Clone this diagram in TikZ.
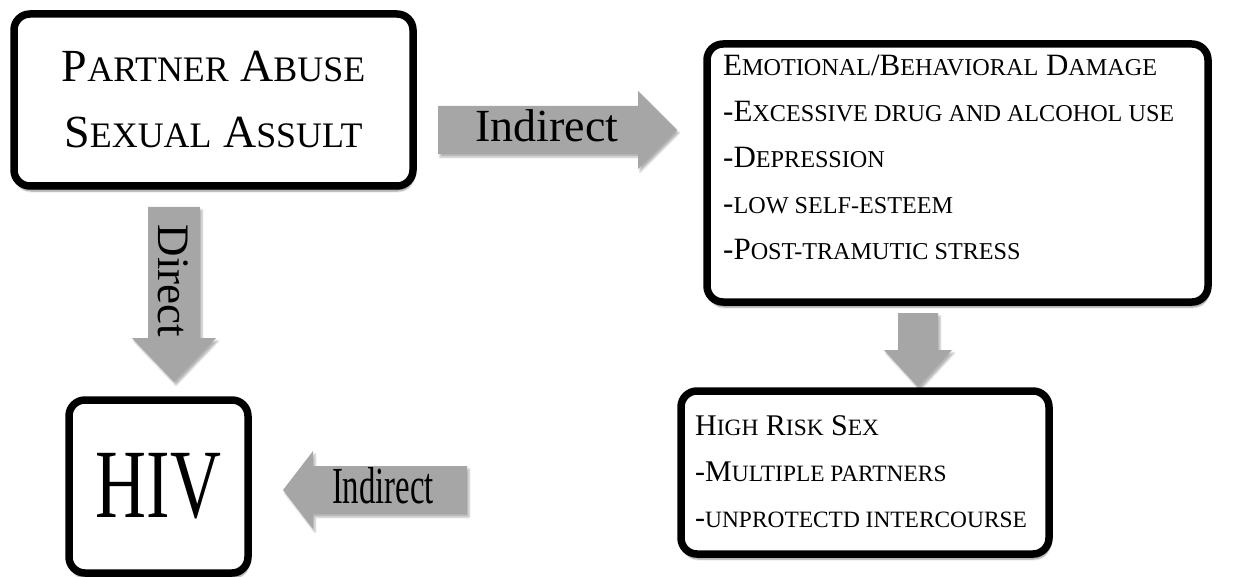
\documentclass[tikz,border=0pt]{standalone}
\usepackage{fontspec}
\setmainfont{Liberation Serif}
\usetikzlibrary{shadows.blur}
\definecolor{arrowgray}{RGB}{166,166,166}
\makeatletter
\newcommand\sct[1]{{\fontsize{\fpeval{0.78*\f@size}}{\f@baselineskip}\selectfont #1}}
\makeatother

\begin{document}
\begin{tikzpicture}[x=1pt,y=-1pt,
	box/.style={draw=black,line width=7.5pt,rounded corners=16pt,fill=white,inner sep=0pt,
		blur shadow={shadow xshift=1pt,shadow yshift=-5pt,shadow blur steps=6,shadow opacity=45}},
	blockarrow/.style={fill=arrowgray,blur shadow={shadow xshift=2pt,shadow yshift=-3pt,shadow blur steps=4,shadow opacity=30}},
	boxtext/.style={anchor=north west,align=left,inner sep=0pt}]
	\useasboundingbox (0,0) rectangle (1241,577);

	\fill[blockarrow] (438,106) -- (638,106) -- (638,91) -- (677,130) -- (638,169) -- (638,154) -- (438,154) -- cycle;
	\fill[blockarrow] (148,207) -- (200,207) -- (200,338) -- (216,338) -- (174,382) -- (132,338) -- (148,338) -- cycle;
	\fill[blockarrow] (898,313) -- (938,313) -- (938,350) -- (952,350) -- (918,387) -- (884,350) -- (898,350) -- cycle;
	\fill[blockarrow] (467,466) -- (313,466) -- (313,451) -- (283,490) -- (313,529) -- (313,514) -- (467,514) -- cycle;

	\node[box,minimum width=399pt,minimum height=172pt,align=center,font=\fontsize{46}{66}\selectfont] (abuse) at (213.5,100)
		{P\sct{ARTNER} A\sct{BUSE}\\S\sct{EXUAL} A\sct{SSULT}};
	\node[box,minimum width=501pt,minimum height=258pt] (damage) at (957.5,173) {};
	\node[box,minimum width=368pt,minimum height=163pt] (risk) at (865,472.5) {};
	\node[box,minimum width=179pt,minimum height=173pt,font=\fontsize{98}{110}\selectfont] (hiv) at (158.5,486.5) {\scalebox{0.72}[1]{HIV}};

	\node[boxtext,font=\fontsize{31}{46}\selectfont] (damagetext) at (723,55)
		{E\sct{MOTIONAL}/B\sct{EHAVIORAL} D\sct{AMAGE}\\
		-E\sct{XCESSIVE DRUG AND ALCOHOL USE}\\
		-D\sct{EPRESSION}\\
		-\sct{LOW SELF-ESTEEM}\\
		-P\sct{OST-TRAMUTIC STRESS}};
	\node[boxtext,font=\fontsize{30}{46}\selectfont] (risktext) at (695,415)
		{H\sct{IGH} R\sct{ISK} S\sct{EX}\\
		-M\sct{ULTIPLE PARTNERS}\\
		-\sct{UNPROTECTD INTERCOURSE}};

	\node[anchor=base,inner sep=0pt,font=\fontsize{46}{50}\selectfont] (indirecttop) at (547,142) {Indirect};
	\node[rotate=-90,inner sep=0pt,font=\fontsize{45}{50}\selectfont] (direct) at (173,281) {Direct};
	\node[anchor=base,inner sep=0pt,font=\fontsize{52}{56}\selectfont] (indirectbottom) at (383,503) {\scalebox{0.63}[1]{Indirect}};
\end{tikzpicture}
\end{document}
